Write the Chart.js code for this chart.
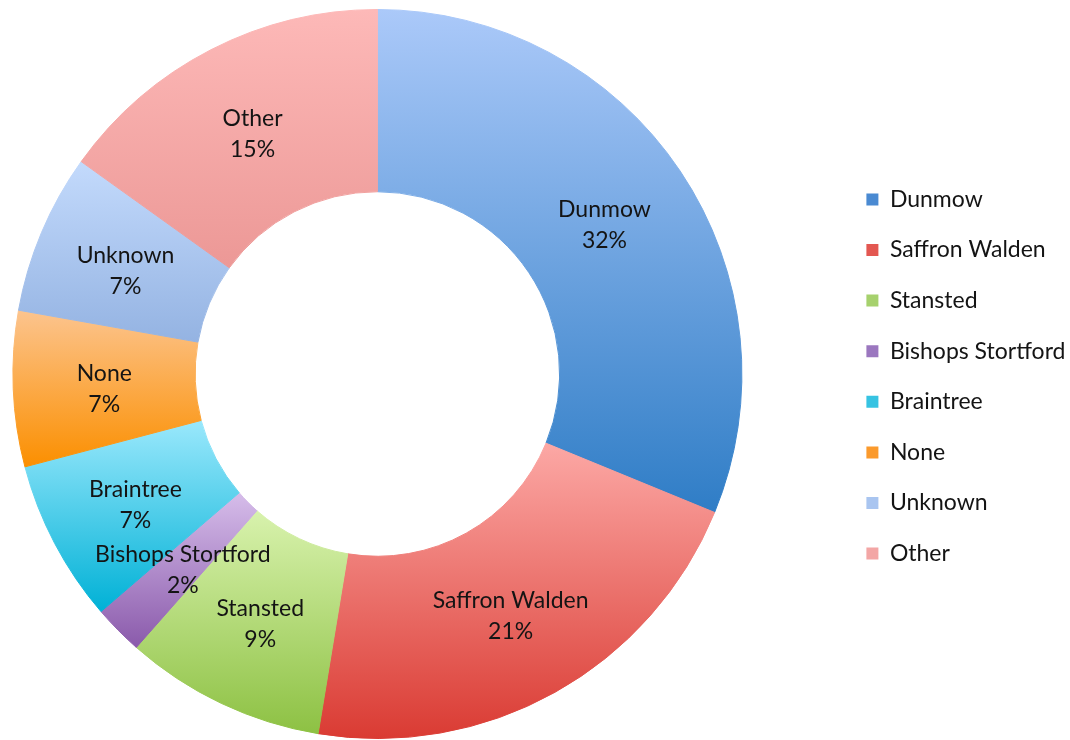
<!DOCTYPE html>
<html>
<head>
<meta charset="utf-8">
<script src="https://cdn.jsdelivr.net/npm/chart.js@4.4.1/dist/chart.umd.min.js"></script>
<style>
  html, body { margin: 0; padding: 0; background: #ffffff; overflow: hidden; }
  #wrap { width: 1070px; height: 740px; position: relative; overflow: hidden; }
  canvas { display: block; position: absolute; top: 0; }
</style>
</head>
<body>
<div id="wrap"><canvas id="c"></canvas></div>
<script>
// ---- data ----
const categories = ['Dunmow', 'Saffron Walden', 'Stansted', 'Bishops Stortford', 'Braintree', 'None', 'Unknown', 'Other'];
const shares = [31.2, 21.4, 8.9, 2.2, 7.2, 6.9, 7.1, 15.1];
const percentLabels = ['32%', '21%', '9%', '2%', '7%', '7%', '7%', '15%'];

// ---- styling ----
const topColors    = ['#abc9f9', '#fca8a5', '#d8f2ad', '#d6bdea', '#9ae8fc', '#fcc48e', '#c3dafc', '#fdb9b8'];
const bottomColors = ['#2f7dc6', '#da3b33', '#8dc143', '#8a5aab', '#00b1d6', '#fb8f00', '#94b3e2', '#ec9896'];
const legendColors = ['#4a8ad2', '#e35751', '#a6d16d', '#9b77bf', '#36c3e2', '#fb9a2c', '#a9c5f0', '#f3a6a5'];

const FONT_FAMILY = 'Lato, "Open Sans", "DejaVu Sans", sans-serif';
const FONT_SIZE = 23;
const TEXT_COLOR = '#141414';
const PAGE_W = 1070, PAGE_H = 740;
const DONUT_CX = 377;        // desired doughnut centre x on the page
const LEGEND_BOX_X = 866;    // desired legend swatch left x on the page
const LEGEND_PAD = 50.6 - FONT_SIZE; // legend row pitch 50.6px
// The canvas is shifted left so that the doughnut (centred in the chart area)
// and the right-hand legend land where they are in the reference.
const SHIFT = LEGEND_BOX_X - LEGEND_PAD - 2 * DONUT_CX;
const CANVAS_W = Math.ceil(PAGE_W + SHIFT + 60);

const canvas = document.getElementById('c');
canvas.width = CANVAS_W;
canvas.height = PAGE_H;
canvas.style.left = (-SHIFT) + 'px';

function sliceGradient(ctx) {
  const chart = ctx.chart;
  const area = chart.chartArea;
  const i = ctx.dataIndex;
  if (!area || i === undefined) return legendColors[i] || '#ccc';
  const ctrl = chart.getDatasetMeta(0).controller;
  const ro = ctrl.outerRadius || Math.min(area.width, area.height) / 2;
  const ri = ctrl.innerRadius || ro * 0.5;
  const cy = (area.top + area.bottom) / 2;
  const data = chart.data.datasets[0].data;
  const total = data.reduce((a, b) => a + b, 0);
  let start = -Math.PI / 2;
  for (let k = 0; k < i; k++) start += 2 * Math.PI * data[k] / total;
  const end = start + 2 * Math.PI * data[i] / total;
  let ymin = Infinity, ymax = -Infinity;
  const steps = 60;
  for (let s = 0; s <= steps; s++) {
    const a = start + (end - start) * s / steps;
    for (const r of [ro, ri]) {
      const y = cy + r * Math.sin(a);
      if (y < ymin) ymin = y;
      if (y > ymax) ymax = y;
    }
  }
  const g = chart.ctx.createLinearGradient(0, ymin, 0, ymax);
  g.addColorStop(0, topColors[i]);
  g.addColorStop(1, bottomColors[i]);
  return g;
}

const sliceLabels = {
  id: 'sliceLabels',
  afterDatasetsDraw(chart) {
    const c = chart.ctx;
    const meta = chart.getDatasetMeta(0);
    c.save();
    c.font = FONT_SIZE + 'px ' + FONT_FAMILY;
    c.fillStyle = TEXT_COLOR;
    c.textAlign = 'center';
    c.textBaseline = 'middle';
    meta.data.forEach((arc, i) => {
      const p = arc.tooltipPosition();
      c.fillText(chart.data.labels[i], p.x, p.y - 12);
      c.fillText(percentLabels[i], p.x, p.y + 19);
    });
    c.restore();
  }
};

const chart = new Chart(canvas, {
  type: 'doughnut',
  data: {
    labels: categories,
    datasets: [{
      data: shares,
      backgroundColor: sliceGradient,
      borderColor: sliceGradient,
      borderWidth: 1,
      hoverOffset: 0
    }]
  },
  options: {
    responsive: false,
    animation: false,
    devicePixelRatio: 1,
    cutout: '50%',
    layout: { padding: { top: 9, bottom: 1, left: 0, right: 0 } },
    plugins: {
      tooltip: { enabled: false },
      legend: {
        position: 'right',
        title: { display: true, text: '', font: { size: 5, lineHeight: 1 }, padding: 0 },
        labels: {
          font: { family: FONT_FAMILY, size: FONT_SIZE },
          color: TEXT_COLOR,
          boxWidth: 12,
          boxHeight: 12,
          padding: LEGEND_PAD,
          generateLabels: (ch) => ch.data.labels.map((t, i) => ({
            text: t,
            fillStyle: legendColors[i],
            strokeStyle: legendColors[i],
            lineWidth: 0,
            hidden: false,
            index: i,
            fontColor: TEXT_COLOR
          }))
        }
      }
    }
  },
  plugins: [sliceLabels]
});

// right padding so that the chart area ends where the legend must start
const lw = chart.legend.width;
chart.options.layout.padding.right = Math.max(0, CANVAS_W - 2 * (DONUT_CX + SHIFT) - lw);
chart.update();
</script>
</body>
</html>
